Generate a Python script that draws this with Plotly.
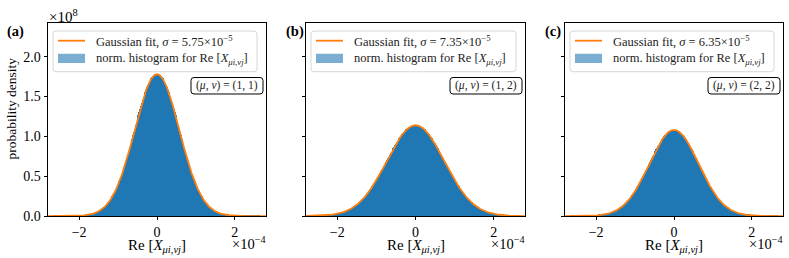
import numpy as np
import plotly.graph_objects as go

# ---- data ----
panel_labels = ["(a)", "(b)", "(c)"]
pair_labels = ["(1, 1)", "(1, 2)", "(2, 2)"]
sigma_values = [5.75e-5, 7.35e-5, 6.35e-5]        # Gaussian fit widths (legend)
sigma_text = ["5.75", "7.35", "6.35"]
peak_values = [1.78e8, 1.14e8, 1.08e8]            # peak probability densities
x_tick_vals = [-2, 0, 2]                           # in units of 1e-4
x_tick_text = ["\u22122", "0", "2"]
y_tick_vals = [0.0, 0.5, 1.0, 1.5, 2.0]            # in units of 1e8
y_tick_text = ["0.0", "0.5", "1.0", "1.5", "2.0"]

X_SCALE = 1e-4
Y_SCALE = 1e8
W, H = 789, 258
V_OFF = 8          # vertical offset of the captured viewport
FONT = "Liberation Serif"
BLUE = "#1f77b4"
ORANGE = "#ff7f0e"

panels_px = [(48, 266), (306, 525), (565, 783)]
label_px = [5, 284, 543]
top_px, bot_px = 16, 215


def px(x):
    return x / W


def py(y):
    return 1 - (y + V_OFF) / H


def rounded_rect(x0, y0, x1, y1, r):
    rx, ry = r / W, r / H
    X0, X1 = px(x0), px(x1)
    Y0, Y1 = py(y0), py(y1)
    return (f"M {X0+rx},{Y0} L {X1-rx},{Y0} Q {X1},{Y0} {X1},{Y0-ry} "
            f"L {X1},{Y1+ry} Q {X1},{Y1} {X1-rx},{Y1} L {X0+rx},{Y1} "
            f"Q {X0},{Y1} {X0},{Y1+ry} L {X0},{Y0-ry} Q {X0},{Y0} {X0+rx},{Y0} Z")


fig = go.Figure()
shapes = []
annotations = []

x_edges = np.linspace(-2.67, 2.67, 241)
x_centers = 0.5 * (x_edges[:-1] + x_edges[1:])
x_fit = np.linspace(-2.8, 2.8, 600)

for i in range(3):
    ax = "" if i == 0 else str(i + 1)
    xa, ya = "x" + ax, "y" + ax
    s = sigma_values[i] / X_SCALE
    a = peak_values[i] / Y_SCALE
    hist = a * np.exp(-x_centers ** 2 / (2 * s ** 2))
    fit = a * np.exp(-x_fit ** 2 / (2 * s ** 2))
    fig.add_trace(go.Bar(x=x_centers, y=hist, width=x_edges[1] - x_edges[0],
                         marker=dict(color=BLUE, line=dict(width=0)),
                         xaxis=xa, yaxis=ya, showlegend=False, hoverinfo="skip"))
    fig.add_trace(go.Scatter(x=x_fit, y=fit, mode="lines",
                             line=dict(color=ORANGE, width=1.8),
                             xaxis=xa, yaxis=ya, showlegend=False))

    l, r = panels_px[i]
    common = dict(showline=True, linecolor="black", linewidth=0.8, mirror=True,
                  ticks="outside", ticklen=3.5, tickwidth=0.8, tickcolor="black",
                  showgrid=False, zeroline=False,
                  tickfont=dict(family=FONT, size=14, color="black"))
    fig.layout["xaxis" + ax] = dict(domain=[px(l), px(r)], range=[-2.8, 2.8],
                                    tickvals=x_tick_vals, ticktext=x_tick_text,
                                    anchor=ya, **common)
    fig.layout["yaxis" + ax] = dict(domain=[py(bot_px), py(top_px)], range=[0, 2.42],
                                    tickvals=y_tick_vals,
                                    ticktext=y_tick_text if i == 0 else [""] * len(y_tick_vals),
                                    anchor=xa, **common)

    shapes.append(dict(type="path", xref="paper", yref="paper",
                       path=rounded_rect(l + 5, 24, r - 9, 66, 3),
                       line=dict(color="#cccccc", width=0.8),
                       fillcolor="rgba(255,255,255,0.8)"))
    shapes.append(dict(type="line", xref="paper", yref="paper",
                       x0=px(l + 10), x1=px(l + 37), y0=py(34), y1=py(34),
                       line=dict(color=ORANGE, width=1.8)))
    shapes.append(dict(type="rect", xref="paper", yref="paper",
                       x0=px(l + 10), x1=px(l + 37), y0=py(47.5), y1=py(57),
                       line=dict(width=0), fillcolor="rgba(31,119,180,0.6)"))
    annotations.append(dict(xref="paper", yref="paper", x=px(l + 46), y=py(34),
                            xanchor="left", yanchor="middle", showarrow=False,
                            text=f"Gaussian fit, <i>σ</i> = {sigma_text[i]}×10<sup>−5</sup>",
                            font=dict(family=FONT, size=12.5, color="#222")))
    annotations.append(dict(xref="paper", yref="paper", x=px(l + 46), y=py(53),
                            xanchor="left", yanchor="middle", showarrow=False,
                            text="norm. histogram for Re [<i>X</i><sub><i>μi,νj</i></sub>]",
                            font=dict(family=FONT, size=12.5, color="#222")))
    shapes.append(dict(type="path", xref="paper", yref="paper",
                       path=rounded_rect(r - 75, 72, r - 3, 89, 3),
                       line=dict(color="black", width=1), fillcolor="white"))
    annotations.append(dict(xref="paper", yref="paper", x=px(r - 39), y=py(80.5),
                            xanchor="center", yanchor="middle", showarrow=False,
                            text=f"(<i>μ</i>, <i>ν</i>) = {pair_labels[i]}",
                            font=dict(family=FONT, size=11.5, color="#222")))
    annotations.append(dict(xref="paper", yref="paper", x=px(label_px[i]), y=py(24),
                            xanchor="left", yanchor="middle", showarrow=False,
                            text=f"<b>{panel_labels[i]}</b>",
                            font=dict(family=FONT, size=14.5, color="black")))
    annotations.append(dict(xref="paper", yref="paper", x=px((l + r) / 2), y=py(245.5),
                            xanchor="center", yanchor="middle", showarrow=False,
                            text="Re [<i>X</i><sub><i>μi,νj</i></sub>]",
                            font=dict(family=FONT, size=15, color="black")))
    annotations.append(dict(xref="paper", yref="paper", x=px(r + 1), y=py(242.5),
                            xanchor="right", yanchor="middle", showarrow=False,
                            text="×10<sup>−4</sup>",
                            font=dict(family=FONT, size=14.5, color="black")))

annotations.append(dict(xref="paper", yref="paper", x=px(47), y=py(9),
                        xanchor="left", yanchor="middle", showarrow=False,
                        text="×10<sup>8</sup>",
                        font=dict(family=FONT, size=15, color="black")))
annotations.append(dict(xref="paper", yref="paper", x=px(12), y=py(104),
                        xanchor="center", yanchor="middle", showarrow=False,
                        text="probability density", textangle=-90,
                        font=dict(family=FONT, size=13.5, color="black")))

fig.update_layout(width=W, height=H, margin=dict(l=0, r=0, t=0, b=0, pad=0),
                  paper_bgcolor="white", plot_bgcolor="white",
                  bargap=0, showlegend=False,
                  shapes=shapes, annotations=annotations)

fig.write_html("out.html", config={"displayModeBar": False},
               post_script=("document.documentElement.style.margin='0';"
                            "document.body.style.margin='0';document.body.style.padding='0';"
                            "document.documentElement.style.overflow='hidden';"
                            "document.body.style.overflow='hidden';window.scrollTo(0,0);"))
